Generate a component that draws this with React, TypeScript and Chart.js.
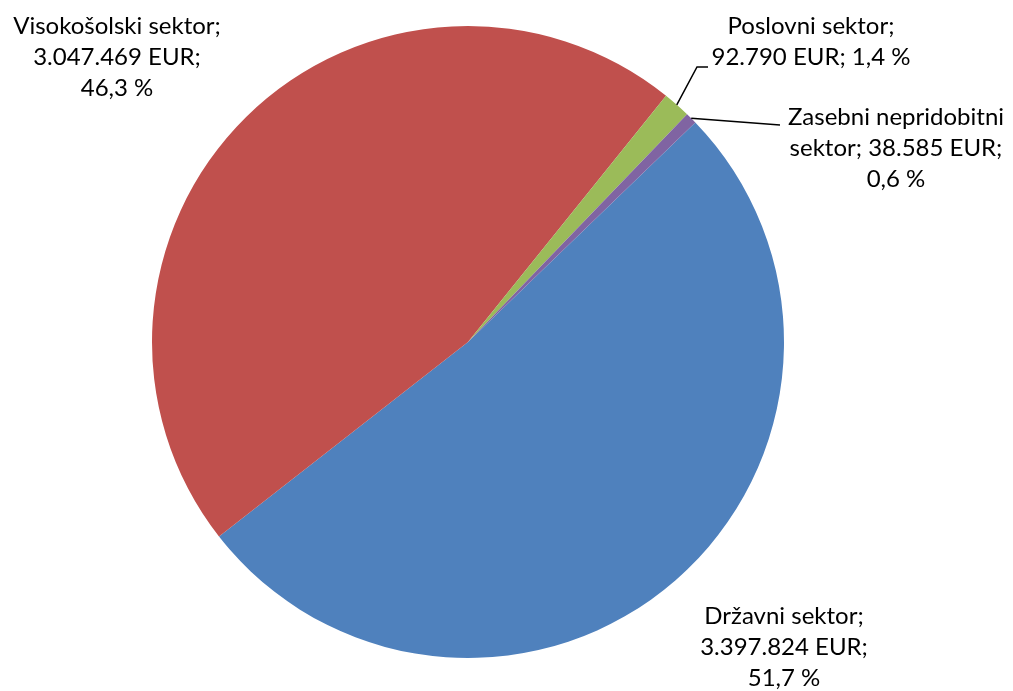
import React, { useEffect, useRef } from "react";
import { Chart, registerables } from "chart.js";

Chart.register(...registerables);

const categories = ["Državni sektor", "Visokošolski sektor", "Poslovni sektor", "Zasebni nepridobitni sektor"];
const values = [3397824, 3047469, 92790, 38585];
const valueLabels = ["3.397.824 EUR", "3.047.469 EUR", "92.790 EUR", "38.585 EUR"];
const percentLabels = ["51,7 %", "46,3 %", "1,4 %", "0,6 %"];
const colors = ["#4F81BD", "#C0504D", "#9BBB59", "#8064A2"];

// label text lines (layout of the text blocks as in the reference)
const labelLines: string[][] = [
  [categories[0] + ";", valueLabels[0] + ";", percentLabels[0]],
  [categories[1] + ";", valueLabels[1] + ";", percentLabels[1]],
  [categories[2] + ";", valueLabels[2] + "; " + percentLabels[2]],
  ["Zasebni nepridobitni", "sektor; " + valueLabels[3] + ";", percentLabels[3]],
];

const labelPos = [
  { x: 784, y: 616 },
  { x: 117, y: 26 },
  { x: 811, y: 26 },
  { x: 896, y: 117 },
];

const FONT = "24px Lato, 'Open Sans', sans-serif";
const LINE_H = 31;

const labelPlugin = {
  id: "pieLabels",
  afterDraw(chart: any) {
    const ctx = chart.ctx;
    const meta = chart.getDatasetMeta(0);
    ctx.save();
    ctx.font = FONT;
    ctx.fillStyle = "#000";
    ctx.textAlign = "center";
    ctx.textBaseline = "middle";
    labelLines.forEach((lines, i) => {
      const p = labelPos[i];
      lines.forEach((t, j) => ctx.fillText(t, p.x, p.y + j * LINE_H));
    });
    // leader lines
    ctx.strokeStyle = "#000";
    ctx.lineWidth = 1.5;
    const edge = (i: number) => {
      const a = meta.data[i];
      const { startAngle, endAngle, outerRadius, x, y } = a.getProps(["startAngle", "endAngle", "outerRadius", "x", "y"], true);
      const m = (startAngle + endAngle) / 2;
      return { x: x + Math.cos(m) * outerRadius, y: y + Math.sin(m) * outerRadius };
    };
    const e2 = edge(2);
    ctx.beginPath();
    ctx.moveTo(e2.x, e2.y);
    ctx.lineTo(697, 67);
    ctx.lineTo(708, 67);
    ctx.stroke();
    const e3 = edge(3);
    ctx.beginPath();
    ctx.moveTo(e3.x, e3.y);
    ctx.lineTo(780, 125);
    ctx.stroke();
    ctx.restore();
  },
};

export default function App() {
  const ref = useRef<HTMLCanvasElement>(null);
  useEffect(() => {
    document.body.style.margin = "0";
    const chart = new Chart(ref.current!, {
      type: "pie",
      data: {
        labels: categories,
        datasets: [
          {
            data: values,
            backgroundColor: colors,
            borderWidth: 0,
          },
        ],
      },
      options: {
        animation: false,
        responsive: false,
        rotation: 46,
        layout: { padding: { left: 152, right: 229, top: 26, bottom: 33 } },
        plugins: { legend: { display: false }, tooltip: { enabled: false } },
      },
      plugins: [labelPlugin],
    });
    return () => chart.destroy();
  }, []);
  return (
    <div style={{ width: 1013, height: 691, background: "#fff" }}>
      <canvas ref={ref} width={1013} height={691} style={{ display: "block" }} />
    </div>
  );
}
